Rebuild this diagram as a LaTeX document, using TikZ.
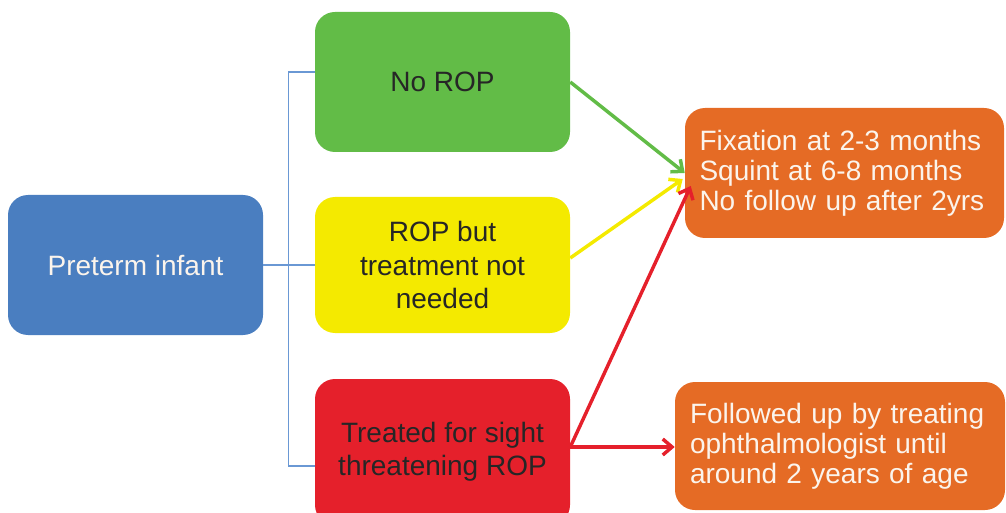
\documentclass[tikz,border=0pt]{standalone}
\usepackage{fontspec}
\setmainfont{Liberation Sans}
\usetikzlibrary{arrows.meta,calc}
\definecolor{boxblue}{HTML}{4A7EC0}
\definecolor{boxgreen}{HTML}{62BC47}
\definecolor{boxyellow}{HTML}{F4EA00}
\definecolor{boxred}{HTML}{E5202B}
\definecolor{boxorange}{HTML}{E56B25}
\definecolor{linkblue}{HTML}{6A98D4}
\definecolor{lighttext}{HTML}{FBF4EC}
\tikzset{
  stage/.style={rounded corners=15pt, inner sep=0pt, align=center,
    font=\fontsize{21}{25}\selectfont},
  outcome/.style={stage, fill=boxorange, text=lighttext, align=left,
    font=\fontsize{21}{22.5}\selectfont},
  bus/.style={draw=linkblue, line width=1pt},
  flow/.style={line width=2.6pt, -{Straight Barb[length=7pt,width=12pt,line width=2.6pt]}}
}
\begin{document}
\begin{tikzpicture}[x=0.75pt,y=-0.75pt]
\useasboundingbox (0,0) rectangle (1006,513);

% stages
\node[stage, fill=boxblue, text=lighttext, minimum width=255*0.75pt, minimum height=140*0.75pt]
  (pre) at (135.5,265) {Preterm infant};
\node[stage, fill=boxgreen, text=black!85, minimum width=255*0.75pt, minimum height=140*0.75pt]
  (norop) at (442.5,82) {No ROP};
\node[stage, fill=boxyellow, text=black!85, minimum width=255*0.75pt, minimum height=136*0.75pt]
  (mild) at (442.5,265) {ROP but\\treatment not\\needed};
\node[stage, fill=boxred, text=black!85, minimum width=255*0.75pt, minimum height=146*0.75pt]
  (treated) at (442.5,452) {Treated for sight\\threatening ROP};

% outcomes
\node[outcome, minimum width=319*0.75pt, minimum height=130*0.75pt, text width=290*0.75pt]
  (fix) at (844.5,173) {Fixation at 2-3 months\\Squint at 6-8 months\\No follow up after 2yrs};
\node[outcome, minimum width=330*0.75pt, minimum height=128*0.75pt, text width=300*0.75pt]
  (follow) at (840,446) {Followed up by treating\\ophthalmologist until\\around 2 years of age};

% branching bus
\draw[bus] (pre.east) -- (mild.west);
\draw[bus] ($(norop.west)+(0,-10)$) -- ++(-26,0) |- ($(treated.west)+(0,14)$);

% outcome arrows
\draw[flow, draw=boxgreen] (norop.east) -- (fix.west);
\draw[flow, draw=boxyellow] ($(mild.east)+(0,-7)$) -- ($(fix.west)+(-2,6)$);
\draw[flow, draw=boxred] ($(treated.east)+(0,-5)$) -- ($(fix.west)+(6,13)$);
\draw[flow, draw=boxred] ($(treated.east)+(0,-5)$) -- ($(follow.west)+(0,1)$);
\end{tikzpicture}
\end{document}
